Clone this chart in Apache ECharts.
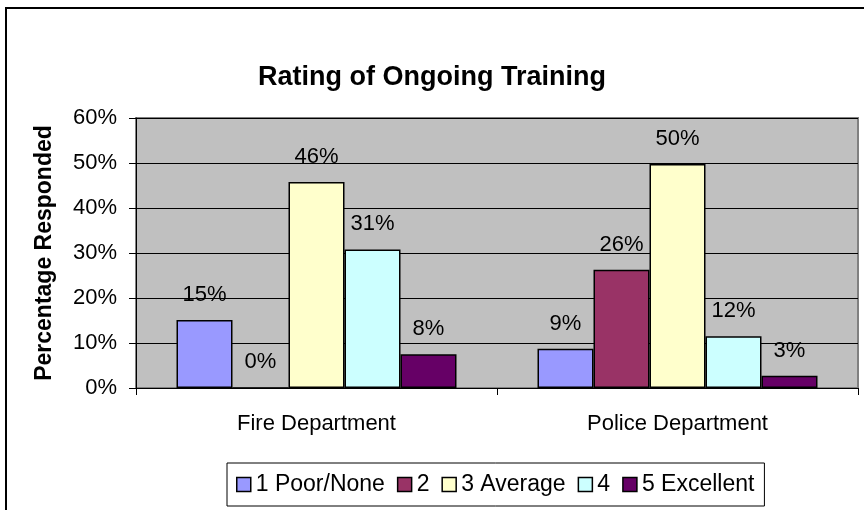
<!DOCTYPE html>
<html>
<head>
<meta charset="utf-8">
<script src="https://cdn.jsdelivr.net/npm/echarts@6/dist/echarts.min.js"></script>
<style>
  html, body { margin: 0; padding: 0; background: #fff; }
  #chart { width: 864px; height: 510px; }
</style>
</head>
<body>
<div id="chart"></div>
<script>
// data (percent)
var categories = ['Fire Department', 'Police Department'];
var seriesNames = ['1 Poor/None', '2', '3 Average', '4', '5 Excellent'];
var poorNone  = [15.1, 8.7];
var two       = [0, 26.3];
var average   = [45.8, 49.8];
var four      = [30.8, 11.5];
var excellent = [7.5, 2.7];
var yTicks = [0, 10, 20, 30, 40, 50, 60];

var colors = ['#9999FF', '#993366', '#FFFFCC', '#CCFFFF', '#660066'];
var values = [poorNone, two, average, four, excellent];
var font = '"Liberation Sans", Arial, sans-serif';

var series = [];
seriesNames.forEach(function (name, i) {
  series.push({
    name: name,
    type: 'bar',
    barWidth: 56,
    barGap: '0%',
    data: values[i],
    itemStyle: { color: colors[i], borderColor: '#000', borderWidth: 1.5 },
    label: {
      show: true,
      position: 'top',
      distance: 14,
      color: '#000',
      fontFamily: font,
      fontSize: 22,
      formatter: function (p) { return Math.round(p.value) + '%'; }
    }
  });
});

var myChart = echarts.init(document.getElementById('chart'));
var option = {
  animation: false,
  backgroundColor: '#fff',
  textStyle: { fontFamily: font, color: '#000' },
  graphic: [{
    type: 'rect',
    shape: { x: 6, y: 8, width: 900, height: 600 },
    style: { fill: null, stroke: '#000', lineWidth: 2 },
    silent: true
  }],
  title: {
    text: 'Rating of Ongoing Training',
    left: 'center',
    top: 59,
    textStyle: { fontFamily: font, fontSize: 27, fontWeight: 'bold', color: '#000' }
  },
  legend: {
    left: 227,
    top: 463,
    padding: [10, 10, 10, 9],
    itemWidth: 14,
    itemHeight: 14,
    itemGap: 12,
    icon: 'rect',
    borderColor: '#000',
    borderWidth: 1,
    itemStyle: { borderColor: '#000', borderWidth: 1.5 },
    textStyle: { fontFamily: font, fontSize: 23, color: '#000' },
    data: seriesNames
  },
  grid: {
    left: 136, right: 6, top: 118, bottom: 122,
    show: true,
    backgroundColor: '#C0C0C0',
    borderColor: '#808080',
    borderWidth: 2
  },
  xAxis: {
    type: 'category',
    data: categories,
    axisLine: { lineStyle: { color: '#000', width: 1 } },
    axisTick: { show: true, length: 7, interval: 0, lineStyle: { color: '#000' } },
    axisLabel: { fontFamily: font, fontSize: 22, color: '#000', margin: 25 }
  },
  yAxis: {
    type: 'value',
    min: yTicks[0],
    max: yTicks[yTicks.length - 1],
    interval: 10,
    name: 'Percentage Responded',
    nameLocation: 'middle',
    nameGap: 80,
    nameTextStyle: { fontFamily: font, fontSize: 23, fontWeight: 'bold', color: '#000' },
    axisLine: { show: true, lineStyle: { color: '#000', width: 1 } },
    axisTick: { show: true, length: 7, lineStyle: { color: '#000' } },
    axisLabel: { fontFamily: font, fontSize: 22, color: '#000', margin: 19, formatter: '{value}%' },
    splitLine: { lineStyle: { color: '#000', width: 1 } }
  },
  series: series
};
myChart.setOption(option);
</script>
</body>
</html>
